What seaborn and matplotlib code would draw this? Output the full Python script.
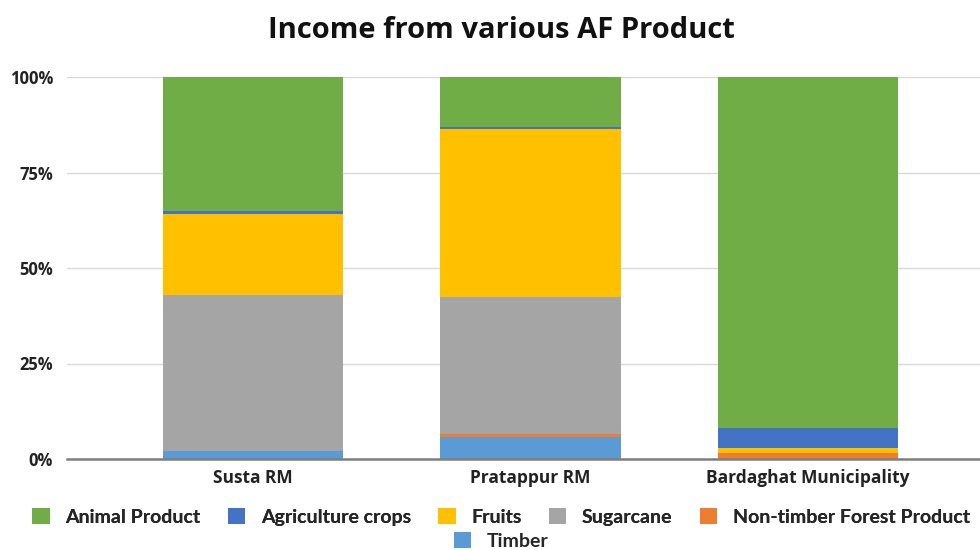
import matplotlib
matplotlib.use("Agg")
import matplotlib.pyplot as plt
import seaborn as sns
import numpy as np
import pandas as pd
from matplotlib.patches import Patch

categories = ["Susta RM", "Pratappur RM", "Bardaghat Municipality"]
# series listed bottom -> top (percent of income)
timber = [2.1, 5.8, 0.0]
ntfp = [0.0, 0.7, 1.7]
sugarcane = [40.8, 36.0, 0.0]
fruits = [21.2, 43.8, 1.3]
agri_crops = [0.8, 0.6, 5.1]
animal = [35.1, 13.1, 91.9]

series_names = ["Timber", "Non-timber Forest Product", "Sugarcane", "Fruits",
                "Agriculture crops", "Animal Product"]
series_vals = [timber, ntfp, sugarcane, fruits, agri_crops, animal]
colors = ["#5B9BD5", "#ED7D31", "#A5A5A5", "#FFC000", "#4472C4", "#70AD47"]
yticks = [0, 25, 50, 75, 100]
ytick_labels = ["0%", "25%", "50%", "75%", "100%"]

sns.set_theme(style="white")
plt.rcParams["font.family"] = ["Open Sans", "DejaVu Sans"]

fig = plt.figure(figsize=(9.8, 5.5), dpi=100)
ax = fig.add_axes([67 / 980, 1 - 459 / 550, 1 - 67 / 980, (459 - 77) / 550])

cum = np.cumsum(np.array(series_vals), axis=0)
# draw cumulative totals from top layer down so lower layers overlay
for i in range(len(series_names) - 1, -1, -1):
    df = pd.DataFrame({"cat": categories, "val": cum[i]})
    sns.barplot(data=df, x="cat", y="val", color=colors[i], saturation=1,
                width=0.65, ax=ax, edgecolor="none", linewidth=0, zorder=2)

ax.set_xlim(-0.67, 2.62)
ax.set_ylim(0, 100)
ax.set_yticks(yticks)
ax.set_yticklabels(ytick_labels, fontsize=12, fontweight="bold", color="#222222")
ax.set_xticklabels(categories, fontsize=12.5, fontweight="bold", color="#222222")
ax.set_xlabel("")
ax.set_ylabel("")
ax.tick_params(axis="both", length=0)
ax.tick_params(axis="y", pad=10)
ax.tick_params(axis="x", pad=7)
ax.yaxis.grid(True, color="#d9d9d9", linewidth=1, zorder=0)
ax.set_axisbelow(True)
for s in ["top", "right", "left"]:
    ax.spines[s].set_visible(False)
ax.spines["bottom"].set_color("#7f7f7f")
ax.spines["bottom"].set_linewidth(1.8)
ax.spines["bottom"].set_zorder(3)

fig.text(501 / 980, 1 - 30 / 550, "Income from various AF Product", ha="center",
         va="center", fontsize=21, fontweight="bold", color="#111111")

legend_order = list(range(len(series_names) - 1, -1, -1))
handles = [Patch(facecolor=colors[i], edgecolor="none") for i in legend_order]
labels = [series_names[i] for i in legend_order]

lfont = {"family": ["Lato", "DejaVu Sans"], "weight": "bold", "size": 14}
leg1 = fig.legend(handles[:5], labels[:5], loc="center", bbox_to_anchor=(501 / 980, 1 - 517 / 550),
                  ncol=5, frameon=False, prop=lfont, handlelength=0.9, handleheight=0.9,
                  handletextpad=0.8, columnspacing=1.4, borderaxespad=0, borderpad=0)
leg2 = fig.legend(handles[5:], labels[5:], loc="center", bbox_to_anchor=(501 / 980, 1 - 541 / 550),
                  ncol=1, frameon=False, prop=lfont, handlelength=0.9, handleheight=0.9,
                  handletextpad=0.8, borderaxespad=0, borderpad=0)
fig.add_artist(leg1)

fig.savefig("out.png", dpi=100)
